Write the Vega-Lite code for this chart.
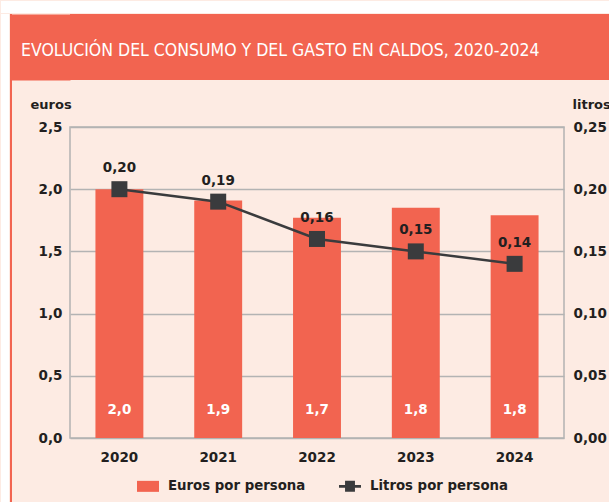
{
  "$schema": "https://vega.github.io/schema/vega-lite/v6.json",
  "padding": 0,
  "background": "#fdebe3",
  "spacing": 0,
  "config": {
    "font": "DejaVu Sans",
    "view": {"stroke": null},
    "concat": {"spacing": 0}
  },
  "vconcat": [
    {
      "width": 609,
      "height": 12,
      "view": {"fill": "#ffffff", "stroke": null},
      "data": {"values": [{}]},
      "mark": {"type": "rule", "opacity": 0},
      "encoding": {}
    },
    {
      "spacing": 0,
      "hconcat": [
        {
          "width": 8,
          "height": 490,
          "view": {"fill": "#ffffff", "stroke": null},
          "data": {"values": [{}]},
          "mark": {"type": "rule", "opacity": 0},
          "encoding": {}
        },
        {
          "width": 2,
          "height": 490,
          "view": {"fill": "#f26450", "stroke": null},
          "data": {"values": [{}]},
          "mark": {"type": "rule", "opacity": 0},
          "encoding": {}
        },
        {
          "spacing": 17,
          "vconcat": [
            {
              "width": 539,
              "height": 66,
              "view": {"fill": "#f26450", "stroke": null},
              "data": {"values": [{"v": 0}, {"v": 1}]},
              "mark": {"type": "rule", "opacity": 0},
              "encoding": {
                "y": {
                  "field": "v",
                  "type": "quantitative",
                  "scale": {"domain": [0, 1], "nice": false},
                  "axis": {
                    "title": null,
                    "labels": false,
                    "ticks": false,
                    "grid": false,
                    "domain": true,
                    "domainColor": "#f26450",
                    "domainWidth": 60,
                    "offset": 30
                  }
                }
              },
              "title": {
                "text": "EVOLUCIÓN DEL CONSUMO Y DEL GASTO EN CALDOS, 2020-2024",
                "anchor": "start",
                "frame": "group",
                "orient": "top",
                "offset": -59,
                "baseline": "alphabetic",
                "dx": -49,
                "color": "#ffffff",
                "font": "DejaVu Sans Condensed, Roboto",
                "fontSize": 17.5,
                "fontWeight": "normal"
              }
            },
            {
              "width": 494,
              "height": 311,
              "view": {"stroke": "#b3b3b3", "strokeWidth": 1.5},
              "data": {
                "values": [
                  {"year": "2020", "euros": 2.0, "litros": 0.2, "eurosLabel": "2,0", "litrosLabel": "0,20"},
                  {"year": "2021", "euros": 1.91, "litros": 0.19, "eurosLabel": "1,9", "litrosLabel": "0,19"},
                  {"year": "2022", "euros": 1.77, "litros": 0.16, "eurosLabel": "1,7", "litrosLabel": "0,16"},
                  {"year": "2023", "euros": 1.85, "litros": 0.15, "eurosLabel": "1,8", "litrosLabel": "0,15"},
                  {"year": "2024", "euros": 1.79, "litros": 0.14, "eurosLabel": "1,8", "litrosLabel": "0,14"}
                ]
              },
              "encoding": {
                "x": {
                  "field": "year",
                  "type": "ordinal",
                  "scale": {"paddingInner": 0.515, "paddingOuter": 0.2575},
                  "axis": {
                    "labelAngle": 0,
                    "labelFont": "DejaVu Sans",
                    "labelFontSize": 13.5,
                    "labelFontWeight": "bold",
                    "labelColor": "#231f20",
                    "labelPadding": 12,
                    "ticks": false,
                    "domain": false,
                    "title": ".",
                    "titleOpacity": 0,
                    "titleX": -57,
                    "titleY": 0,
                    "titleAlign": "left"
                  }
                }
              },
              "layer": [
                {
                  "encoding": {
                    "y": {
                      "field": "euros",
                      "type": "quantitative",
                      "scale": {"domain": [0, 2.5], "nice": false},
                      "axis": {
                        "values": [0, 0.5, 1, 1.5, 2, 2.5],
                        "labelExpr": "replace(format(datum.value,'.1f'),'.',',')",
                        "title": "euros",
                        "titleAngle": 0,
                        "titleAlign": "left",
                        "titleBaseline": "alphabetic",
                        "titleX": -40,
                        "titleY": -19,
                        "titleFont": "DejaVu Sans",
                        "titleFontSize": 13,
                        "titleFontWeight": "bold",
                        "titleColor": "#231f20",
                        "labelFont": "DejaVu Sans",
                        "labelFontSize": 13.5,
                        "labelFontWeight": "bold",
                        "labelColor": "#231f20",
                        "labelPadding": 8,
                        "ticks": false,
                        "domain": false,
                        "grid": true,
                        "gridColor": "#b3b3b3",
                        "gridWidth": 1.5
                      }
                    }
                  },
                  "layer": [
                    {
                      "mark": {"type": "bar"},
                      "encoding": {
                        "color": {
                          "datum": "Euros por persona",
                          "scale": {
                            "domain": ["Euros por persona", "Litros por persona"],
                            "range": ["#f26450", "#3a3b3d"]
                          },
                          "legend": {
                            "orient": "none",
                            "legendX": 136,
                            "legendY": 474,
                            "direction": "horizontal",
                            "title": null,
                            "labelFont": "DejaVu Sans",
                            "labelFontSize": 13.3,
                            "labelFontWeight": "bold",
                            "labelColor": "#231f20",
                            "symbolSize": 484,
                            "labelOffset": 9,
                            "columnPadding": 33,
                            "padding": 0,
                            "encode": {
                              "symbols": {
                                "update": {
                                  "shape": {"signal": "datum.value === 'Euros por persona' ? 'M-1,-0.5H1V0.5H-1Z' : 'M-1,-0.13H1V0.13H-1ZM-0.45,-0.5H0.45V0.5H-0.45Z'"},
                                  "fill": {"signal": "datum.value === 'Euros por persona' ? '#f26450' : '#3a3b3d'"},
                                  "stroke": {"value": "transparent"},
                                  "strokeWidth": {"value": 0},
                                  "opacity": {"value": 1},
                                  "fillOpacity": {"value": 1}
                                }
                              }
                            }
                          }
                        }
                      }
                    },
                    {
                      "mark": {"type": "text", "color": "#ffffff", "font": "DejaVu Sans", "fontSize": 13.5, "fontWeight": "bold", "baseline": "middle", "dy": -28},
                      "encoding": {
                        "y": {"datum": 0, "type": "quantitative"},
                        "text": {"field": "eurosLabel"}
                      }
                    }
                  ]
                },
                {
                  "encoding": {
                    "y": {
                      "field": "litros",
                      "type": "quantitative",
                      "scale": {"domain": [0, 0.25], "nice": false},
                      "axis": {
                        "orient": "right",
                        "values": [0, 0.05, 0.1, 0.15, 0.2, 0.25],
                        "labelExpr": "replace(format(datum.value,'.2f'),'.',',')",
                        "title": "litros",
                        "titleAngle": 0,
                        "titleAlign": "left",
                        "titleBaseline": "alphabetic",
                        "titleX": 8,
                        "titleY": -19,
                        "titleFont": "DejaVu Sans",
                        "titleFontSize": 13,
                        "titleFontWeight": "bold",
                        "titleColor": "#231f20",
                        "labelFont": "DejaVu Sans",
                        "labelFontSize": 13.5,
                        "labelFontWeight": "bold",
                        "labelColor": "#231f20",
                        "labelPadding": 9,
                        "ticks": false,
                        "domain": false,
                        "grid": false
                      }
                    }
                  },
                  "layer": [
                    {
                      "mark": {"type": "line", "strokeWidth": 2.5},
                      "encoding": {"color": {"datum": "Litros por persona"}}
                    },
                    {
                      "mark": {"type": "point", "shape": "square", "filled": true, "size": 256, "opacity": 1},
                      "encoding": {"color": {"datum": "Litros por persona"}}
                    },
                    {
                      "mark": {"type": "text", "color": "#231f20", "font": "DejaVu Sans", "fontSize": 13.5, "fontWeight": "bold", "baseline": "middle", "dy": -21},
                      "encoding": {"text": {"field": "litrosLabel"}}
                    }
                  ]
                }
              ],
              "resolve": {"scale": {"y": "independent"}}
            }
          ]
        }
      ]
    }
  ]
}
